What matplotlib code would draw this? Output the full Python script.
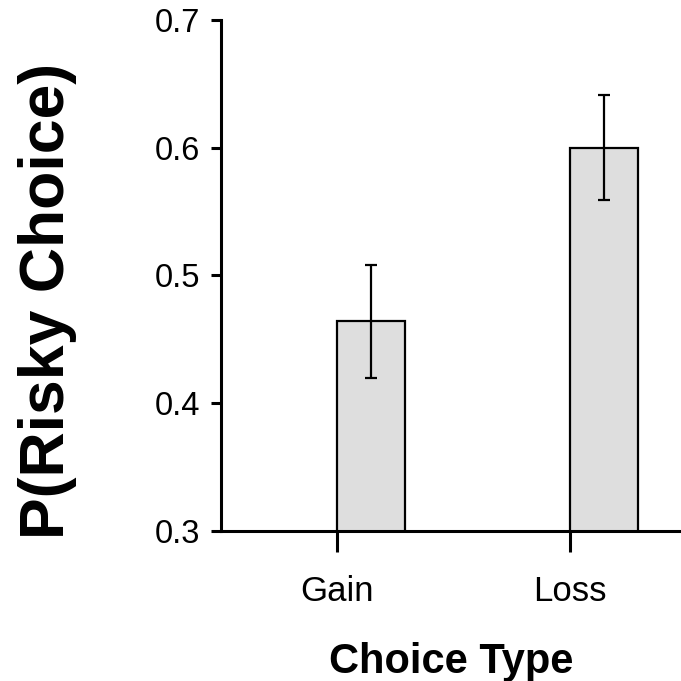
import matplotlib
matplotlib.use("Agg")
import matplotlib.pyplot as plt
import numpy as np

plt.rcParams['font.family'] = ['Liberation Sans', 'DejaVu Sans']

# data
categories = ["Gain", "Loss"]
p_risky = [0.464, 0.600]
sem = [0.044, 0.041]
yticks = [0.3, 0.4, 0.5, 0.6, 0.7]

fig = plt.figure(figsize=(6.81, 6.81), dpi=100)
ax = fig.add_axes([0.3245, 0.2203, 0.6755, 0.7503])

x = np.arange(len(categories))
bar_w = 0.292
ax.bar(x, p_risky, width=bar_w, align='edge', bottom=0,
       color='#dedede', edgecolor='black', linewidth=1.6, zorder=2)
ax.errorbar(x + bar_w / 2, p_risky, yerr=sem, fmt='none', ecolor='black',
            elinewidth=1.6, capsize=4.3, capthick=1.6, zorder=3)

ax.set_ylim(0.3, 0.7)
ax.set_xlim(-0.498, 1.476)
ax.set_yticks(yticks)
ax.set_yticklabels([f"{t:.1f}" for t in yticks])
ax.set_xticks(x)
ax.set_xticklabels(categories)

for s in ['top', 'right']:
    ax.spines[s].set_visible(False)
for s in ['left', 'bottom']:
    ax.spines[s].set_linewidth(2.2)
    ax.spines[s].set_zorder(4)

ax.tick_params(axis='y', direction='out', length=7, width=2.2, pad=8, labelsize=23.5)
ax.tick_params(axis='x', direction='out', length=15, width=2.2, pad=17, labelsize=25)

ax.set_ylabel("P(Risky Choice)", fontsize=45, fontweight='bold')
ax.yaxis.set_label_coords(-0.312, 0.45)
ax.set_xlabel("Choice Type", fontsize=30, fontweight='bold', labelpad=24)

fig.savefig("out.png", dpi=100)
